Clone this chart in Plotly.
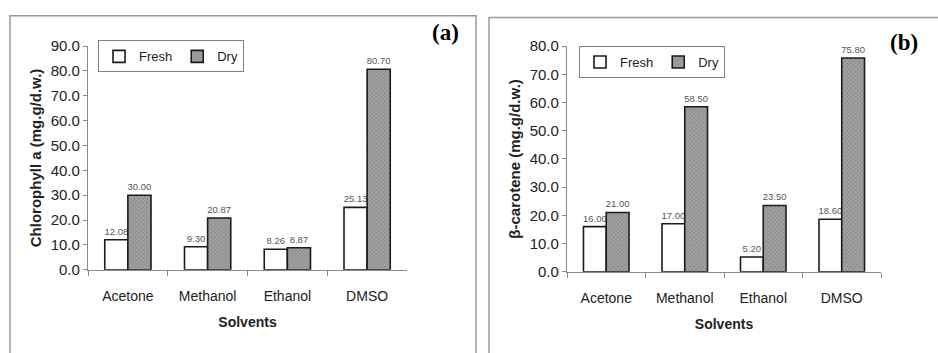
import plotly.graph_objects as go

solvents = ["Acetone", "Methanol", "Ethanol", "DMSO"]
chl_fresh = [12.08, 9.30, 8.26, 25.13]
chl_dry = [30.00, 20.87, 8.87, 80.70]
car_fresh = [16.00, 17.00, 5.20, 18.60]
car_dry = [21.00, 58.50, 23.50, 75.80]

W, H = 938, 353
SANS = "Liberation Sans"
SERIF = "Liberation Serif"

def px(x):
    return x / W

def py(y):
    return 1 - y / H

fresh_marker = dict(color="white", line=dict(color="#1a1a1a", width=1.6))
dry_marker = dict(color="#9a9a9a", line=dict(color="#1a1a1a", width=1.6),
                  pattern=dict(shape="x", size=3, fgcolor="#5e5e5e", bgcolor="#a2a2a2", solidity=0.35))
label_font = dict(family=SANS, size=9.5, color="#555555")

fig = go.Figure()
for name, vals, mk, xa, ya, lg in [
    ("Fresh", chl_fresh, fresh_marker, "x", "y", "legend"),
    ("Dry", chl_dry, dry_marker, "x", "y", "legend"),
    ("Fresh", car_fresh, fresh_marker, "x2", "y2", "legend2"),
    ("Dry", car_dry, dry_marker, "x2", "y2", "legend2"),
]:
    fig.add_trace(go.Bar(
        x=solvents, y=vals, name=name, xaxis=xa, yaxis=ya, legend=lg,
        marker=mk, texttemplate="%{y:.2f}", textposition="outside",
        textfont=label_font, constraintext="none", cliponaxis=False,
    ))

axis_common_x = dict(
    type="category", showline=True, linecolor="#8a8a8a", linewidth=1.2,
    ticks="outside", tickson="boundaries", ticklen=5, tickcolor="#8a8a8a",
    tickfont=dict(family=SANS, size=14, color="#222222"), ticklabelstandoff=13,
    showgrid=False, zeroline=False,
)
axis_common_y = dict(
    showline=True, linecolor="#8a8a8a", linewidth=1.2, ticks="outside",
    ticklen=4, tickcolor="#8a8a8a", dtick=10, tickformat=".1f",
    tickfont=dict(family=SANS, size=15, color="#222222"),
    showgrid=False, zeroline=False,
)
xtitle_font = dict(family=SANS, size=14, color="#222222")
ytitle_font = dict(family=SANS, size=15, color="#222222")

fig.update_layout(
    width=W, height=H, margin=dict(l=0, r=0, t=0, b=0),
    paper_bgcolor="white", plot_bgcolor="white",
    barmode="group", bargap=0.42, bargroupgap=0,
    xaxis=dict(axis_common_x, domain=[px(88), px(407)], anchor="y",
               title=dict(text="<b>Solvents</b>", font=xtitle_font, standoff=14)),
    yaxis=dict(axis_common_y, domain=[py(274), py(39)], anchor="x", range=[0, 90],
               title=dict(text="<b>Chlorophyll a (mg.g/d.w.)</b>", font=ytitle_font, standoff=5)),
    xaxis2=dict(axis_common_x, domain=[px(567), px(881)], anchor="y2",
                title=dict(text="<b>Solvents</b>", font=xtitle_font, standoff=14)),
    yaxis2=dict(axis_common_y, domain=[py(276), py(39)], anchor="x2", range=[0, 80],
                title=dict(text="<b>β-carotene (mg.g/d.w.)</b>", font=ytitle_font, standoff=5)),
    legend=dict(x=px(98), y=py(33), xanchor="left", yanchor="top", orientation="h",
                bordercolor="#808080", borderwidth=1, bgcolor="white",
                font=dict(family=SANS, size=13, color="#222222"), itemwidth=30),
    legend2=dict(x=px(579), y=py(39), xanchor="left", yanchor="top", orientation="h",
                 bordercolor="#808080", borderwidth=1, bgcolor="white",
                 font=dict(family=SANS, size=13, color="#222222"), itemwidth=30),
    shapes=[
        dict(type="rect", xref="paper", yref="paper", x0=px(10), x1=px(476), y0=-0.1, y1=py(7),
             line=dict(color="#9a9a9a", width=1.5)),
        dict(type="rect", xref="paper", yref="paper", x0=px(489), x1=1.1, y0=-0.1, y1=py(9),
             line=dict(color="#9a9a9a", width=1.5)),
    ],
    annotations=[
        dict(text="<b>(a)</b>", xref="paper", yref="paper", x=px(445), y=py(25),
             xanchor="center", yanchor="middle", showarrow=False,
             font=dict(family=SERIF, size=23, color="black")),
        dict(text="<b>(b)</b>", xref="paper", yref="paper", x=px(904), y=py(35),
             xanchor="center", yanchor="middle", showarrow=False,
             font=dict(family=SERIF, size=23, color="black")),
    ],
    showlegend=True,
)

fig.write_html("out.html")
